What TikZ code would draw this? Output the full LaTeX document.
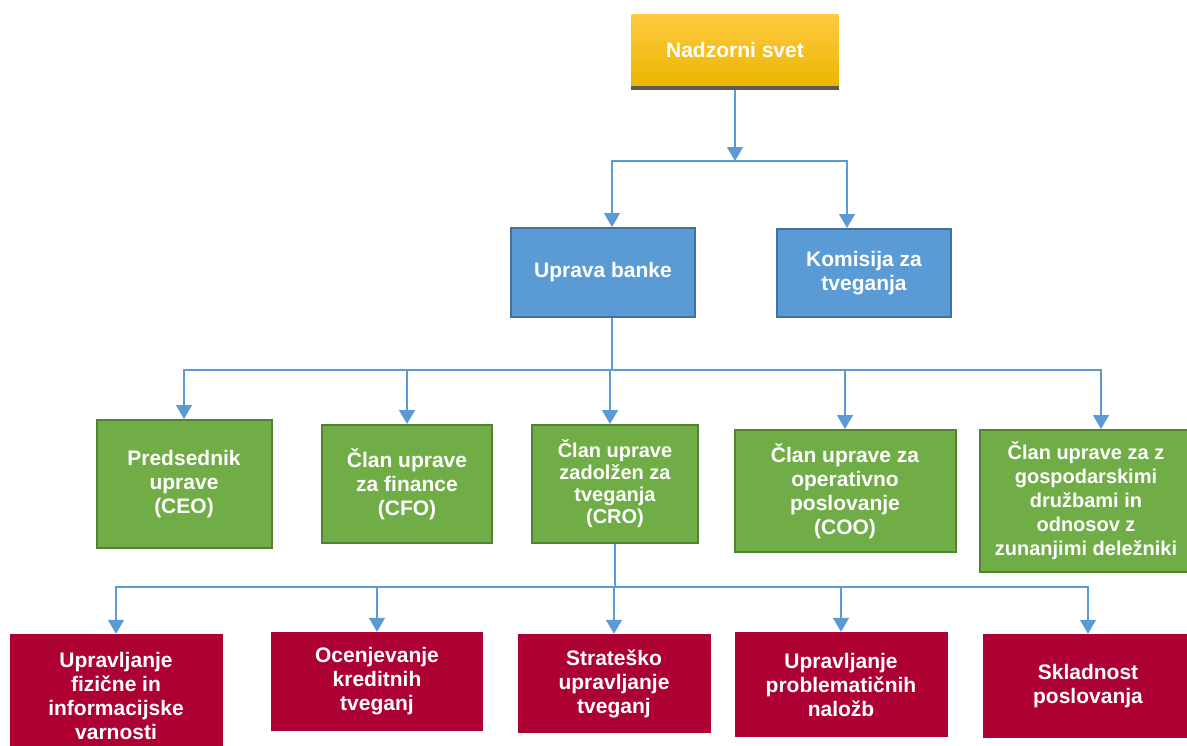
\documentclass[tikz,border=0pt]{standalone}
\usepackage{fontspec}
\setmainfont{Liberation Sans}
\usetikzlibrary{arrows.meta}
\definecolor{goldtop}{RGB}{255,201,66}
\definecolor{goldbottom}{RGB}{236,182,0}
\definecolor{goldshadow}{RGB}{90,90,90}
\definecolor{boxblue}{RGB}{91,155,213}
\definecolor{boxblueline}{RGB}{65,113,156}
\definecolor{boxgreen}{RGB}{112,173,71}
\definecolor{boxgreenline}{RGB}{84,130,53}
\definecolor{boxred}{RGB}{173,0,51}
\definecolor{arrowblue}{RGB}{91,155,213}
\begin{document}
\begin{tikzpicture}
[x=1pt,y=-1pt,
  boxdecorate/.style={shape=rectangle,inner sep=2pt,align=center,text=white,%
    font=\bfseries\fontsize{21}{24}\selectfont},
  golddecorate/.style={boxdecorate,top color=goldtop,bottom color=goldbottom},
  bluedecorate/.style={boxdecorate,fill=boxblue,draw=boxblueline,line width=2pt},
  greendecorate/.style={boxdecorate,fill=boxgreen,draw=boxgreenline,line width=2pt},
  reddecorate/.style={boxdecorate,fill=boxred},
  smallfont/.style={font=\bfseries\fontsize{20}{22}\selectfont},
  arrowdecorate/.style={-{Triangle[width=16pt,length=14pt]},draw=arrowblue,line width=1.5pt},
  linedecorate/.style={draw=arrowblue,line width=1.5pt},
  elbowdecorate/.style={to path={-| (\tikztotarget)}}]
\useasboundingbox (0,0) rectangle (1187,745);
\clip (0,0) rectangle (1187,745);
% top and board
\node (nadzor) at (735,50) [golddecorate,minimum width=207pt,minimum height=72pt] {Nadzorni svet};
\fill[goldshadow] (nadzor.south west) rectangle ([yshift=-4pt]nadzor.south east);
\node (uprava) at (603,272.5) [bluedecorate,minimum width=184pt,minimum height=89pt] {Uprava banke};
\node (komisija) at (864,273) [bluedecorate,minimum width=174pt,minimum height=88pt] {Komisija za\\tveganja};
% members of the board
\node (ceo) at (184,484) [greendecorate,minimum width=175pt,minimum height=128pt] {Predsednik\\uprave\\(CEO)};
\node (cfo) at (407,484) [greendecorate,minimum width=170pt,minimum height=118pt] {Član uprave\\za finance\\(CFO)};
\node (cro) at (615,484) [greendecorate,smallfont,minimum width=166pt,minimum height=118pt] {Član uprave\\zadolžen za\\tveganja\\(CRO)};
\node (coo) at (845,491) [greendecorate,minimum width=221pt,minimum height=122pt] {Član uprave za\\operativno\\poslovanje\\(COO)};
\node (druzbe) at (1086,501) [greendecorate,font=\bfseries\fontsize{20}{24}\selectfont,minimum width=213pt,minimum height=142pt] {Član uprave za z\\gospodarskimi\\družbami in\\odnosov z\\zunanjimi deležniki};
% risk units
\node (varnost) at (116,696) [reddecorate,minimum width=213pt,minimum height=124pt] {Upravljanje\\fizične in\\informacijske\\varnosti};
\node (kredit) at (377,681.5) [reddecorate,minimum width=212pt,minimum height=99pt] {Ocenjevanje\\kreditnih\\tveganj};
\node (strateg) at (614,683.5) [reddecorate,minimum width=193pt,minimum height=99pt] {Strateško\\upravljanje\\tveganj};
\node (nalozbe) at (841,684.5) [reddecorate,minimum width=213pt,minimum height=105pt] {Upravljanje\\problematičnih\\naložb};
\node (skladnost) at (1088,686) [reddecorate,minimum width=210pt,minimum height=104pt] {Skladnost\\poslovanja};
% junctions
\coordinate (j1) at (735,161);
\coordinate (j2) at (612,370);
\coordinate (j3) at (615,587);
% edges
\path
([yshift=-4pt]nadzor.south) edge[arrowdecorate] (j1)
(j1) edge[arrowdecorate,elbowdecorate] ([xshift=9pt]uprava.north)
(j1) edge[arrowdecorate,elbowdecorate] ([xshift=-17pt]komisija.north)
([xshift=9pt]uprava.south) edge[linedecorate] (j2)
(cro.south) edge[linedecorate] (j3);
\foreach \n/\s in {ceo/0,cfo/0,cro/-5,coo/0,druzbe/15}
  \path (j2) edge[arrowdecorate,elbowdecorate] ([xshift=\s pt]\n.north);
\foreach \n in {varnost,kredit,strateg,nalozbe,skladnost}
  \path (j3) edge[arrowdecorate,elbowdecorate] (\n.north);
\end{tikzpicture}
\end{document}
